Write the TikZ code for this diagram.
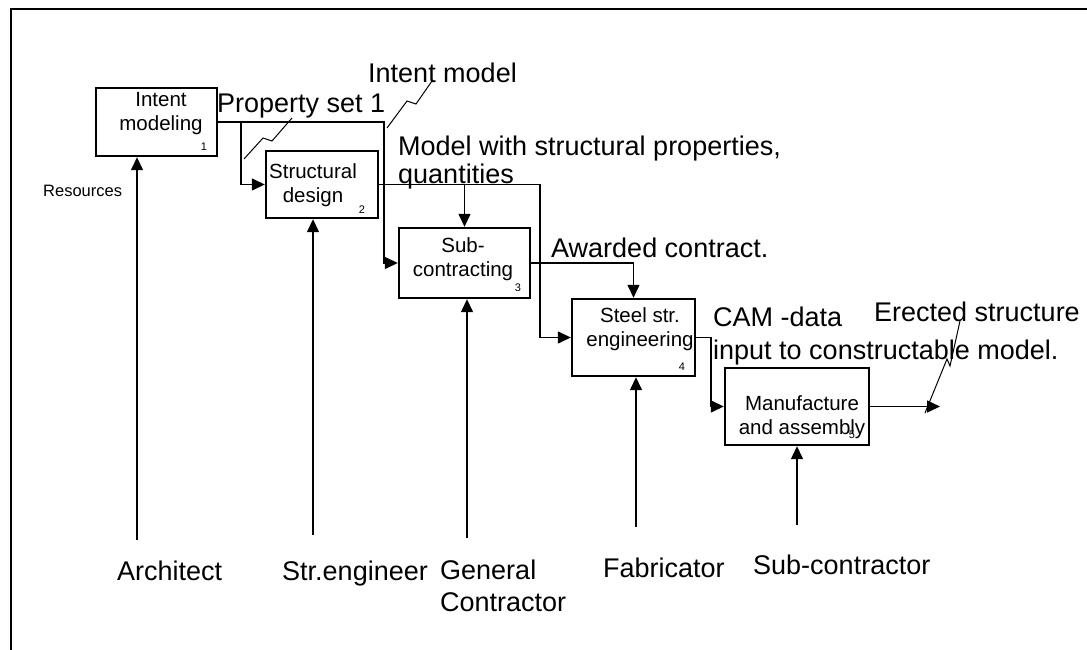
\documentclass[tikz,border=0pt]{standalone}
\usepackage{fontspec}
\setmainfont{Liberation Sans}
\usetikzlibrary{arrows.meta}

\tikzset{
  procbox/.style={draw, rectangle, line width=2.4pt, inner sep=0pt},
  flow/.style={line width=1.4pt, -{Triangle[length=13pt,width=12pt]}},
  squig/.style={line width=1pt},
  boxtxt/.style={font=\fontsize{20.5}{24}\selectfont, align=center, inner sep=0pt},
  boxnum/.style={font=\fontsize{11}{11}\selectfont, inner sep=0pt},
  biglbl/.style={font=\fontsize{27}{28}\selectfont, inner sep=0pt, anchor=base west},
  multilbl/.style={font=\fontsize{27}{#1}\selectfont, inner sep=0pt, align=left, anchor=north west},
  smalllbl/.style={font=\fontsize{16.5}{18}\selectfont, inner sep=0pt, anchor=base west}
}

\begin{document}
\begin{tikzpicture}[x=1pt, y=-1pt]
\useasboundingbox (0,0) rectangle (1087,650);

% page frame (top and left edges)
\draw[line width=2.6pt] (11,650) -- (11,9) -- (1087,9);

% activity boxes
\node[procbox, minimum width=121pt, minimum height=68pt] (b1) at (156.5,122) {};
\node[procbox, minimum width=112pt, minimum height=67pt] (b2) at (322,184.5) {};
\node[procbox, minimum width=131pt, minimum height=70pt] (b3) at (464.5,263) {};
\node[procbox, minimum width=123pt, minimum height=77pt] (b4) at (633.5,337.5) {};
\node[procbox, minimum width=144pt, minimum height=77pt] (b5) at (797,406.5) {};

% box captions
\node[boxtxt] (t1) at (161,114) {Intent\\modeling};
\node[boxtxt] (t2) at (313,185) {Structural\\design};
\node[boxtxt] (t3) at (463,259) {Sub-\\contracting};
\node[boxtxt] (t4) at (640,329) {Steel str.\\engineering};
\node[boxtxt] (t5) at (802,417) {Manufacture\\and assembly};

% box numbers
\node[boxnum] (n1) at (204,147) {1};
\node[boxnum] (n2) at (362,210) {2};
\node[boxnum] (n3) at (518,288) {3};
\node[boxnum] (n4) at (682,367) {4};
\node[boxnum] (n5) at (852,435) {5};

% junctions of the flow lines
\coordinate (j1) at (384,122);
\coordinate (j1b) at (241,122);
\coordinate (j2) at (540,184.5);
\coordinate (j4) at (711,337.5);
\coordinate (out) at (940,406.5);

% outputs and inputs
\draw[flow] (b1.east) -- (j1) |- (b3.west);
\draw[flow] (j1b) |- (b2.west);
\draw[flow] (b2.east) -- (j2) |- (b4.west);
\draw[flow] (b3.north |- b2.east) -- (b3.north);
\draw[flow] (b3.east) -| (b4.north);
\draw[flow] (b4.east) -- (j4) |- (b5.west);
\draw[flow] (b5.east) -- (out);

% mechanisms from below
\coordinate (m1) at (137,540);
\coordinate (m2) at (313,535);
\coordinate (m3) at (467,538);
\coordinate (m4) at (636,527);
\coordinate (m5) at (797,525);
\draw[flow] (m1) -- (m1 |- b1.south);
\draw[flow] (m2) -- (m2 |- b2.south);
\draw[flow] (m3) -- (m3 |- b3.south);
\draw[flow] (m4) -- (m4 |- b4.south);
\draw[flow] (m5) -- (m5 |- b5.south);

% arrow labels
\node[biglbl] (lim) at (368,83) {Intent model};
\node[biglbl] (lps) at (217,113) {Property set 1};
\node[multilbl=28pt] (lmw) at (398,135.5) {Model with structural properties,\\quantities};
\node[biglbl] (lac) at (551,257) {Awarded contract.};
\node[multilbl=33pt] (lcam) at (713,306.5) {CAM -data\\input to constructable model.};
\node[biglbl] (ler) at (874,321) {Erected structure};
\node[smalllbl] (lres) at (43,196) {Resources};

% squiggles tying labels to their arrows
\draw[squig] (244,159) -- (263,138) -- (272,141) -- (292,118);
\draw[squig] (387,128) -- (407,101) -- (416,104) -- (432,81);
\draw[squig] (925,413) -- (947,359) -- (950,366) -- (960,321);

% mechanism labels
\node[biglbl] (la) at (117,580) {Architect};
\node[biglbl] (ls) at (282,580) {Str.engineer};
\node[multilbl=32pt] (lg) at (440,560) {General\\Contractor};
\node[biglbl] (lf) at (603,577) {Fabricator};
\node[biglbl] (lsc) at (753,574) {Sub-contractor};
\end{tikzpicture}
\end{document}
